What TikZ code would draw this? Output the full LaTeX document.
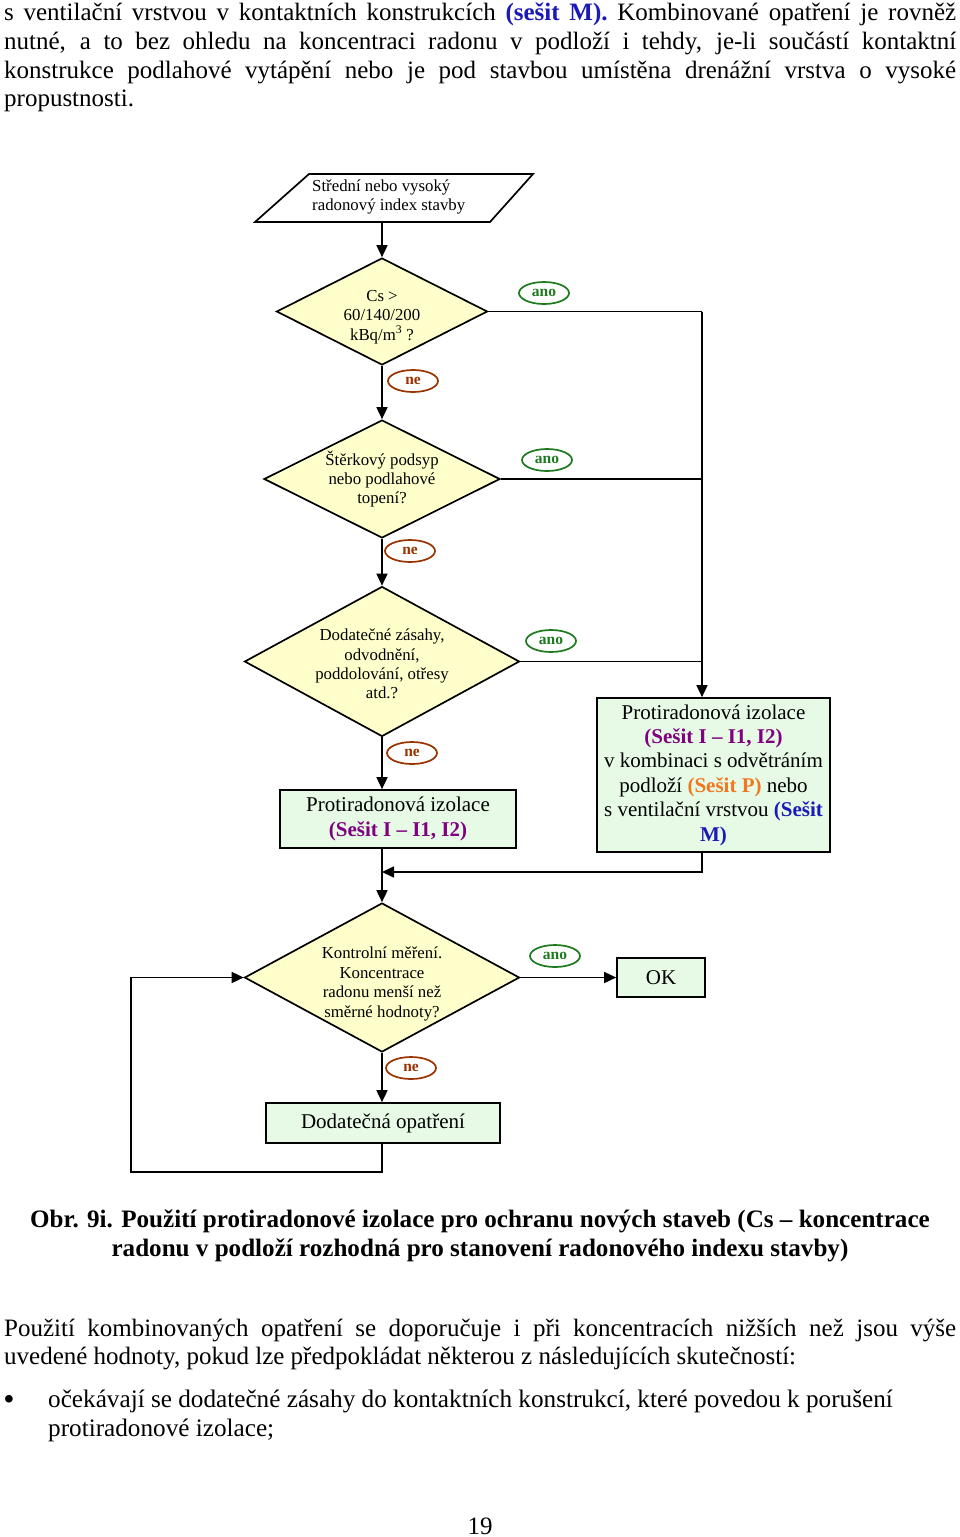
\documentclass[tikz,border=0pt]{standalone}
\usepackage{fontspec}
\setmainfont{Liberation Serif}
\usetikzlibrary{shapes.geometric,arrows.meta,calc}
\definecolor{dyel}{HTML}{FFFFCC}
\definecolor{bgreen}{HTML}{E6FAE6}
\definecolor{anoc}{HTML}{1E7A1E}
\definecolor{nec}{HTML}{993300}
\definecolor{purp}{HTML}{800080}
\definecolor{orng}{HTML}{F07820}
\definecolor{blu}{HTML}{1A1AB8}
\begin{document}
\begin{tikzpicture}[x=1pt,y=-1pt,
 dia/.style={diamond,draw,fill=dyel,line width=1.7pt,inner sep=0pt},
 dtext/.style={align=center,font=\fontsize{16.8}{19.4}\selectfont,inner sep=0pt},
 gbox/.style={draw,fill=bgreen,line width=1.7pt,inner sep=0pt,align=center,font=\fontsize{21}{24.4}\selectfont},
 lab/.style={ellipse,draw,line width=1.7pt,minimum width=50pt,minimum height=22pt,inner sep=0pt,font=\bfseries\fontsize{15.5}{15.5}\selectfont},
 yes/.style={lab,draw=anoc,text=anoc},
 no/.style={lab,draw=nec,text=nec},
 conn/.style={line width=1.7pt},
 arr/.style={conn,-{Triangle[length=12pt,width=11pt]}},
 body/.style={anchor=base west,inner sep=0pt,font=\fontsize{25}{29}\selectfont},
]
\useasboundingbox[fill=white] (0,0) rectangle (960,1537);

% top paragraph
\node[body] (t1) at (4,20) {\makebox[952pt][s]{s ventilační vrstvou v kontaktních konstrukcích \textcolor{blu}{\bfseries(sešit M).} Kombinované opatření je rovněž}};
\node[body] (t2) at (4,49) {\makebox[952pt][s]{nutné, a to bez ohledu na koncentraci radonu v podloží i tehdy, je-li součástí kontaktní}};
\node[body] (t3) at (4,78) {\makebox[952pt][s]{konstrukce podlahové vytápění nebo je pod stavbou umístěna drenážní vrstva o vysoké}};
\node[body] (t4) at (4,106) {propustnosti.};

% start parallelogram
\draw[line width=1.7pt] (309,174) -- (533,174) -- (490,222) -- (255,222) -- cycle;
\node[anchor=west,align=left,inner sep=0pt,font=\fontsize{16.8}{19.4}\selectfont] (p0) at (312,197) {Střední nebo vysoký\\radonový index stavby};
\coordinate (p0s) at (382,222);

% diamonds
\node[dia,minimum width=211pt,minimum height=107pt] (d1) at (382,311.5) {};
\node[dtext] (d1t) at ([yshift=-5.5pt]d1.center) {Cs >\\60/140/200\\kBq/m\textsuperscript{3} ?};
\node[dia,minimum width=236pt,minimum height=118pt] (d2) at (382,479) {};
\node[dtext] (d2t) at (d2.center) {Štěrkový podsyp\\nebo podlahové\\topení?};
\node[dia,minimum width=275pt,minimum height=150pt] (d3) at (382,661.5) {};
\node[dtext] (d3t) at ([yshift=-2.5pt]d3.center) {Dodatečné zásahy,\\odvodnění,\\poddolování, otřesy\\atd.?};
\node[dia,minimum width=275pt,minimum height=149pt] (d4) at (382,977.5) {};
\node[dtext] (d4t) at ([yshift=-6.5pt]d4.center) {Kontrolní měření.\\Koncentrace\\radonu menší než\\směrné hodnoty?};

% boxes
\node[gbox,minimum width=236pt,minimum height=58pt] (b1) at (398,819) {Protiradonová izolace\\\textcolor{purp}{\bfseries(Sešit I – I1, I2)}};
\node[gbox,minimum width=233pt,minimum height=154pt] (b2) at (713.5,775) {Protiradonová izolace\\\textcolor{purp}{\bfseries(Sešit I – I1, I2)}\\v kombinaci s odvětráním\\podloží \textcolor{orng}{\bfseries(Sešit P)} nebo\\s ventilační vrstvou \textcolor{blu}{\bfseries(Sešit}\\\textcolor{blu}{\bfseries M)}};
\node[gbox,minimum width=88pt,minimum height=39pt] (ok) at (661,977.5) {OK};
\node[gbox,minimum width=234pt,minimum height=40pt] (b3) at (383,1123) {Dodatečná opatření};

% connectors
\coordinate (j1) at (702,311.5);
\draw[arr] (p0s) -- (d1.north);
\draw[conn] (d1.east) -- (j1);
\draw[arr] (j1) -- (j1 |- b2.north);
\draw[conn] (d2.east) -- (j1 |- d2.east);
\draw[conn] (d3.east) -- (j1 |- d3.east);
\draw[arr] (d1.south) -- (d2.north);
\draw[arr] (d2.south) -- (d3.north);
\draw[arr] (d3.south) -- (d3.south |- b1.north);
\draw[arr] (d3.south |- b1.south) -- (d4.north);
\coordinate (j2) at (702,872);
\draw[arr] (j1 |- b2.south) -- (j2) -- (d4.north |- j2);
\draw[arr] (d4.east) -- (ok.west);
\draw[arr] (d4.south) -- (d4.south |- b3.north);
\coordinate (j3) at (131,1172);
\draw[arr] (d4.south |- b3.south) -- (d4.south |- j3) -- (j3) -- (j3 |- d4.west) -- (d4.west);

% labels
\node[yes] (a1) at (544,293) {ano};
\node[yes] (a2) at (547,460) {ano};
\node[yes] (a3) at (551,641) {ano};
\node[yes] (a4) at (555,956) {ano};
\node[no] (n1) at (413,381) {ne};
\node[no] (n2) at (410,551) {ne};
\node[no] (n3) at (412,753) {ne};
\node[no] (n4) at (411,1068) {ne};

% caption
\node[anchor=base,inner sep=0pt,font=\bfseries\fontsize{25.1}{29}\selectfont] (c1) at (480,1227) {Obr. 9i. Použití protiradonové izolace pro ochranu nových staveb (Cs – koncentrace};
\node[anchor=base,inner sep=0pt,font=\bfseries\fontsize{25.1}{29}\selectfont] (c2) at (480,1256) {radonu v podloží rozhodná pro stanovení radonového indexu stavby)};

% bottom paragraph
\node[body] (u1) at (4,1336) {\makebox[952pt][s]{Použití kombinovaných opatření se doporučuje i při koncentracích nižších než jsou výše}};
\node[body] (u2) at (4,1364) {uvedené hodnoty, pokud lze předpokládat některou z následujících skutečností:};
\node[body,font=\bfseries\fontsize{28}{29}\selectfont] (bl) at (4,1408) {•};
\node[body,font=\fontsize{25.2}{29}\selectfont] (u3) at (48,1407) {očekávají se dodatečné zásahy do kontaktních konstrukcí, které povedou k porušení};
\node[body,font=\fontsize{25.2}{29}\selectfont] (u4) at (48,1436) {protiradonové izolace;};
\node[anchor=base,inner sep=0pt,font=\fontsize{25}{29}\selectfont] (pg) at (480,1534) {19};
\end{tikzpicture}
\end{document}
